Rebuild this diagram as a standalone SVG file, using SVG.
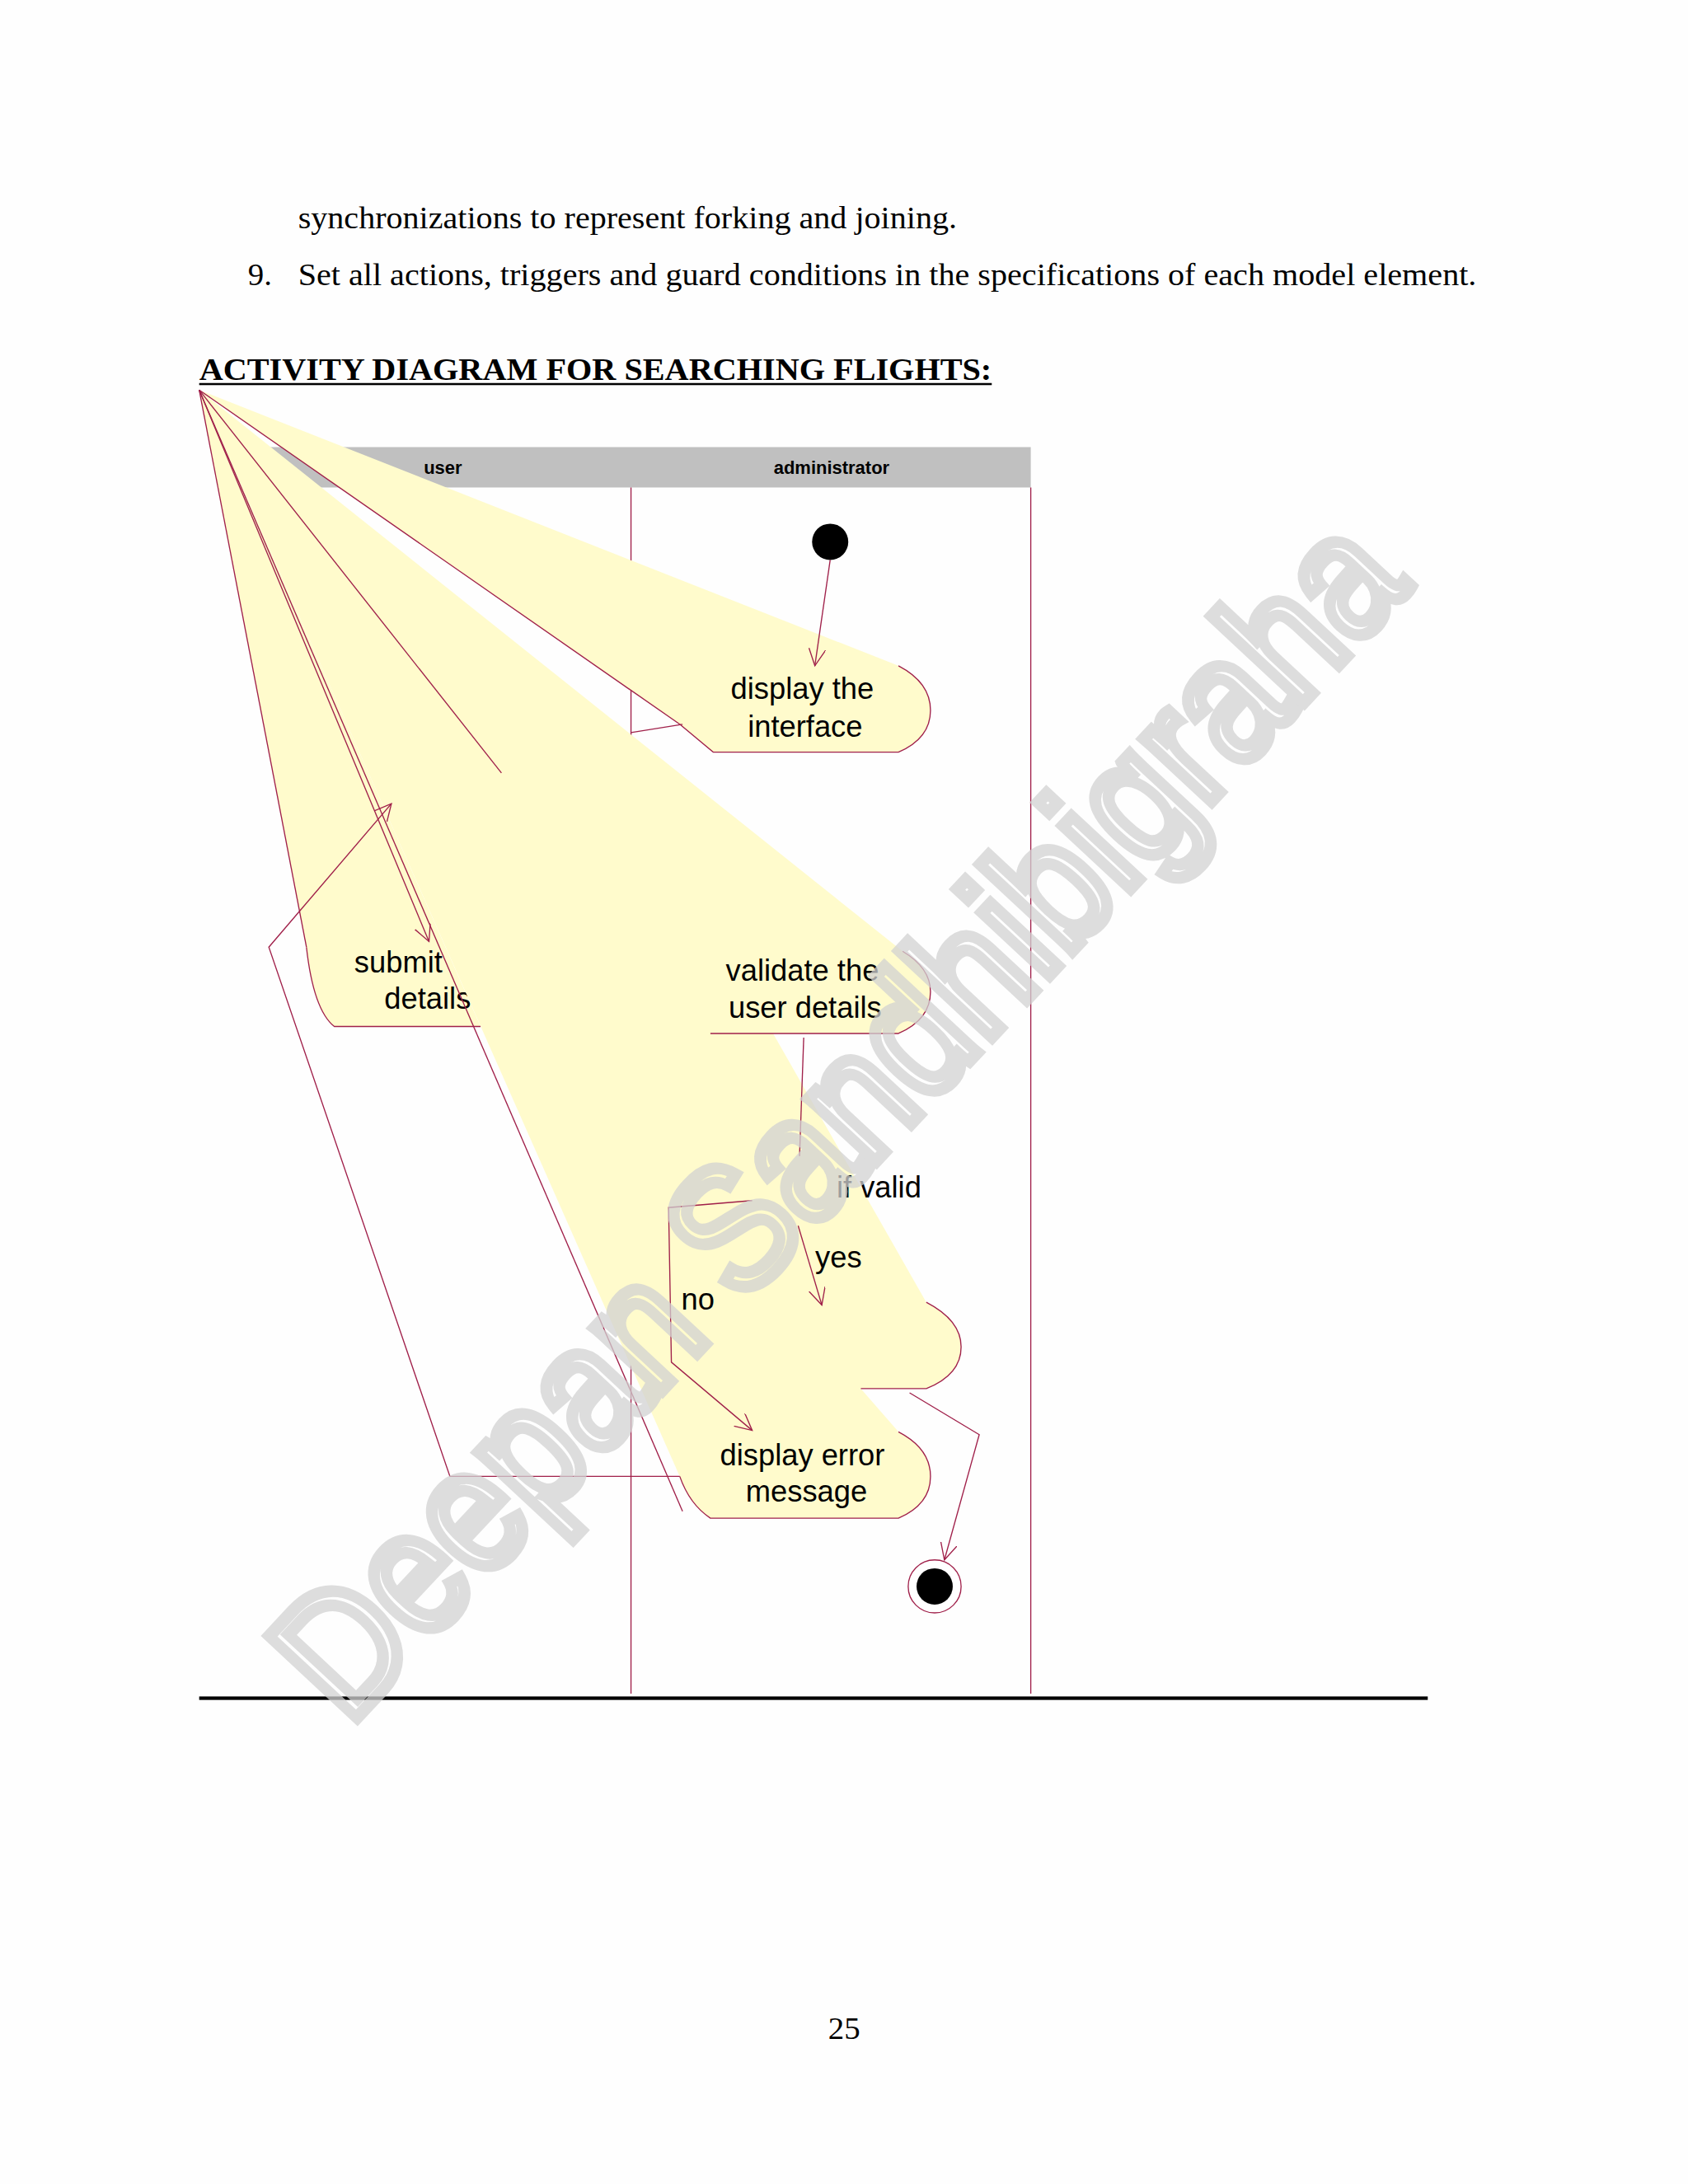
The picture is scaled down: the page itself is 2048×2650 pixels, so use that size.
<svg xmlns="http://www.w3.org/2000/svg" width="2048" height="2650" viewBox="0 0 2048 2650">
<defs>
<style>
.ln{fill:none;stroke:#a0204a;stroke-width:0.8}
.wd{fill:#fffbcc;stroke:none}
.nt{font-family:"Liberation Sans",Arial,sans-serif;font-size:21.5px;fill:#000;text-anchor:middle}
.tm{font-family:"Liberation Serif","Times New Roman",serif;font-size:23px;fill:#000}
.hd{font-family:"Liberation Sans",Arial,sans-serif;font-size:13px;font-weight:bold;fill:#000;text-anchor:middle}
</style>
<marker id="ah" markerWidth="14" markerHeight="14" refX="12" refY="6" orient="auto" markerUnits="userSpaceOnUse"><path d="M0,0 L12,6 L0,12" fill="none" stroke="#a0204a" stroke-width="0.8"/></marker>
</defs>
<rect width="2048" height="2650" fill="#fefefe"/>
<g transform="scale(1.69)">
<text class="tm" x="214" y="164" textLength="473" lengthAdjust="spacingAndGlyphs">synchronizations to represent forking and joining.</text>
<text class="tm" x="178" y="205">9.</text>
<text class="tm" x="214" y="205" textLength="846" lengthAdjust="spacingAndGlyphs">Set all actions, triggers and guard conditions in the specifications of each model element.</text>
<text class="tm" x="143" y="273" font-weight="bold" textLength="569" lengthAdjust="spacingAndGlyphs">ACTIVITY DIAGRAM FOR SEARCHING FLIGHTS:</text>
<rect x="143" y="275" width="569" height="1.5" fill="#000"/>

<g id="swimlanes">
<rect x="182" y="321" width="558" height="29" fill="#c0c0c0"/>
<text class="hd" x="318" y="340">user</text>
<text class="hd" x="597" y="340">administrator</text>
<line class="ln" x1="453" y1="350" x2="453" y2="1216"/>
<line class="ln" x1="740" y1="350" x2="740" y2="1216"/>
</g>

<g id="nodes">
<g id="start"><circle cx="596" cy="389" r="13" fill="#000"/></g>
<g id="display-details">
<text class="nt" x="605" y="960">display the</text>
<text class="nt" x="605" y="986">details</text>
</g>
<g id="submit-wedge">
<path class="wd" d="M143,280 L345,737 L240,737 Q225,725 220,680 Z"/>
</g>
<g id="submit-details">
<text class="nt" x="286" y="698">submit</text>
<text class="nt" x="307" y="724">details</text>
</g>
<g id="wedges">
<path class="wd" d="M143,280 L645,478 Q668,490 668,510 Q668,530 645,540 L512,540 L488,520 Q344,420 143,280 Z"/>
<path class="wd" d="M143,280 L648,683 Q668,695 668,712 Q668,732 645,742 L555,742 L665,935 Q690,948 690,967 Q690,987 665,997 L618,997 L645,1028 Q668,1040 668,1060 Q668,1080 645,1090 L510,1090 Q495,1080 488,1060 Z"/>
</g>
<g id="submit-outline">
<path class="ln" d="M220,680 Q225,725 240,737 L345,737"/>
</g>
<g id="display-interface">
<path class="ln" d="M645,478 Q668,490 668,510 Q668,530 645,540 L512,540 L488,520"/>
<text class="nt" x="576" y="502">display the</text>
<text class="nt" x="578" y="529">interface</text>
</g>
<g id="validate">
<path class="ln" d="M648,683 Q668,695 668,712 Q668,732 645,742 L510,742"/>
<text class="nt" x="576" y="704">validate the</text>
<text class="nt" x="578" y="731">user details</text>
</g>
<g id="display-details-outline">
<path class="ln" d="M665,935 Q690,948 690,967 Q690,987 665,997 L618,997"/>
</g>
<g id="error">
<path class="ln" d="M645,1028 Q668,1040 668,1060 Q668,1080 645,1090 L510,1090 Q495,1080 488,1060"/>
<text class="nt" x="576" y="1052">display error</text>
<text class="nt" x="579" y="1078">message</text>
</g>
<g id="end"><circle cx="671" cy="1139" r="19" fill="#fff" stroke="#a0204a" stroke-width="0.8"/><circle cx="671" cy="1139" r="13" fill="#000"/></g>
</g>

<g id="connectors">
<path class="ln" d="M143,280 Q344,420 488,520"/>
<line class="ln" x1="143" y1="280" x2="220" y2="680"/>
<line class="ln" x1="143" y1="280" x2="490" y2="1085"/>
<line class="ln" x1="143" y1="280" x2="360" y2="555"/>
<line class="ln" x1="143" y1="280" x2="308" y2="676" marker-end="url(#ah)"/>
<line class="ln" x1="453" y1="526" x2="490" y2="520"/>
<line class="ln" x1="596" y1="402" x2="585" y2="478" marker-end="url(#ah)"/>
<line class="ln" x1="577" y1="745" x2="574" y2="830"/>
<path class="ln" d="M540,862 L480,867 L482,978 L540,1027" marker-end="url(#ah)"/>
<line class="ln" x1="573" y1="880" x2="590" y2="937" marker-end="url(#ah)"/>
<path class="ln" d="M653,1000 L703,1030 L678,1120" marker-end="url(#ah)"/>
<path class="ln" d="M488,1060 L323,1060 L193,680 L281,577" marker-end="url(#ah)"/>
<text class="nt" x="631" y="860">if valid</text>
<text class="nt" x="602" y="910">yes</text>
<text class="nt" x="501" y="940">no</text>
</g>

<rect x="143" y="1218" width="882" height="2.5" fill="#000"/>
<text class="tm" x="606" y="1464" text-anchor="middle">25</text>
<text x="0" y="0" transform="translate(250,1240) rotate(-47)" font-family="'Liberation Sans',Arial,sans-serif" font-size="125" fill="none" stroke="#d2d2d2" stroke-width="9" opacity="0.75" textLength="1120" lengthAdjust="spacingAndGlyphs">Deepan Sandhibigraha</text>
</g>
</svg>
